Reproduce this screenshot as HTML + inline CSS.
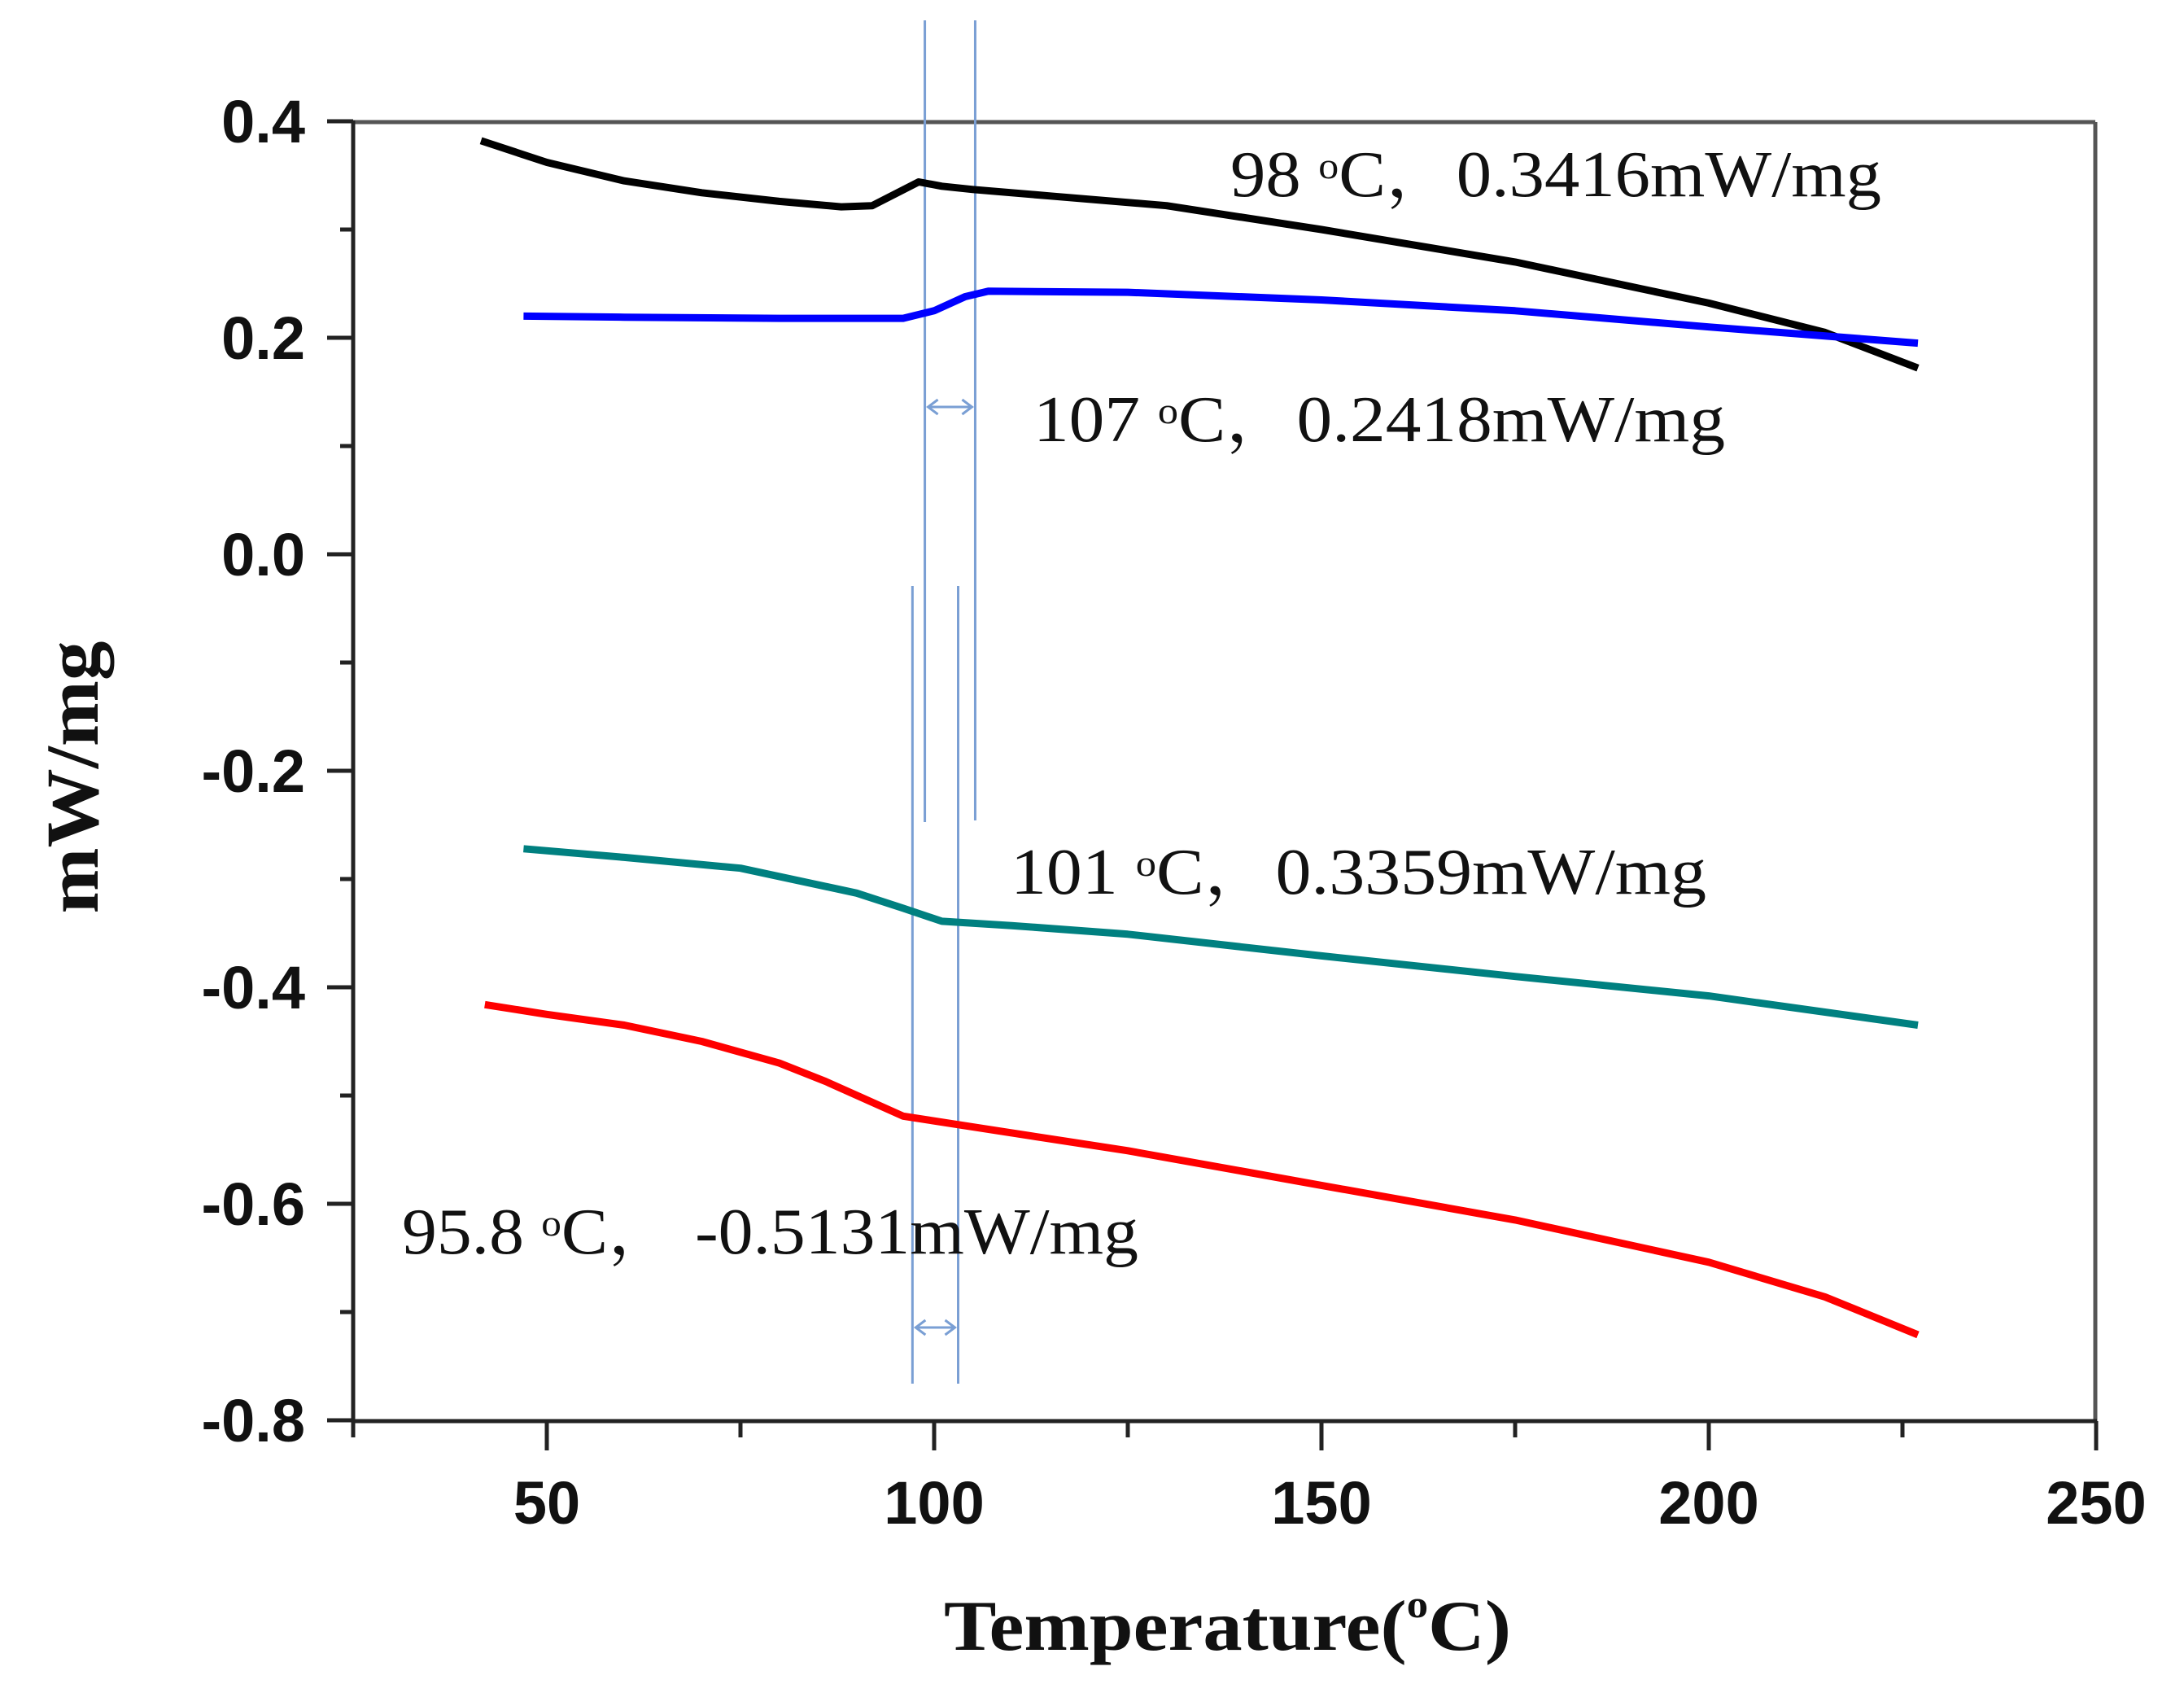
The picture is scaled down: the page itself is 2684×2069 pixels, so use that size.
<!DOCTYPE html>
<html><head><meta charset="utf-8"><style>
html,body{margin:0;padding:0;background:#fff;}
svg{display:block;}
</style></head><body>
<svg id="chart" width="2684" height="2069" viewBox="0 0 2684 2069" xmlns="http://www.w3.org/2000/svg">
<rect width="2684" height="2069" fill="#fff"/>
<g id="marks"></g>
</svg>
<script>
const xTicks = [50, 100, 150, 200, 250];
const xMinor = [75, 125, 175, 225];
const yTicks = [0.4, 0.2, 0.0, -0.2, -0.4, -0.6, -0.8];
const yTickLabels = ["0.4", "0.2", "0.0", "-0.2", "-0.4", "-0.6", "-0.8"];
const yMinor = [0.3, 0.1, -0.1, -0.3, -0.5, -0.7];
const blackT = [41.5, 50, 60, 70, 80, 88, 92, 95, 98, 101, 105, 115, 130, 150, 175, 200, 215, 227];
const blackV = [0.382, 0.362, 0.345, 0.334, 0.326, 0.321, 0.322, 0.333, 0.344, 0.340, 0.337, 0.331, 0.322, 0.300, 0.270, 0.232, 0.205, 0.172];
const blueT = [47, 60, 80, 96, 100, 104, 107, 125, 150, 175, 200, 227];
const blueV = [0.220, 0.219, 0.218, 0.218, 0.225, 0.238, 0.243, 0.242, 0.235, 0.225, 0.210, 0.195];
const tealT = [47, 60, 75, 90, 96, 101, 110, 125, 150, 175, 200, 227];
const tealV = [-0.272, -0.280, -0.290, -0.313, -0.327, -0.339, -0.343, -0.351, -0.371, -0.390, -0.408, -0.435];
const redT = [42, 50, 60, 70, 80, 86, 91, 96, 105, 125, 150, 175, 200, 215, 227];
const redV = [-0.416, -0.425, -0.435, -0.450, -0.470, -0.487, -0.503, -0.519, -0.529, -0.551, -0.583, -0.615, -0.654, -0.686, -0.721];
const markerT = [98.8, 105.3, 97.2, 103.1];
const annotations = [
  {pre:"98 ", post:"C，0.3416mW/mg"},
  {pre:"107 ", post:"C，0.2418mW/mg"},
  {pre:"101 ", post:"C，0.3359mW/mg"},
  {pre:"95.8 ", post:"C， -0.5131mW/mg"}
];

const L=434,R=2575,T=150,B=1746;
const xs = t => 672 + (t-50)*9.52;
const ys = v => 681 - v*1330;
const NS="http://www.w3.org/2000/svg";
const g=document.getElementById('marks');
function mk(tag, attrs, parent){const e=document.createElementNS(NS,tag);for(const k in attrs)e.setAttribute(k,attrs[k]);(parent||g).appendChild(e);return e;}

let e;
e=mk('line',{x1:L,y1:T,x2:R,y2:T,stroke:'#555',"stroke-width":5});


e=mk('line',{x1:R,y1:T,x2:R,y2:B,stroke:'#555',"stroke-width":5});


e=mk('line',{x1:L,y1:T-2,x2:L,y2:B+2,stroke:'#222',"stroke-width":5});


e=mk('line',{x1:L-2,y1:B,x2:R+2,y2:B,stroke:'#222',"stroke-width":5});



yTicks.forEach((v,i)=>{
  let t=mk('line',{x1:L-32,y1:ys(v),x2:L,y2:ys(v),stroke:'#222',"stroke-width":5});
  
  
  let tx=mk('text',{x:375,y:ys(v)+26,"text-anchor":"end","font-family":"Liberation Sans, sans-serif","font-weight":"bold","font-size":74,fill:'#111'});
  tx.textContent=yTickLabels[i];
  
  
});
yMinor.forEach(v=>{
  let t=mk('line',{x1:L-16,y1:ys(v),x2:L,y2:ys(v),stroke:'#222',"stroke-width":5});
  
  
});
xTicks.forEach(v=>{
  let t=mk('line',{x1:xs(v),y1:B,x2:xs(v),y2:B+36,stroke:'#222',"stroke-width":5});
  
  
  let tx=mk('text',{x:xs(v),y:1872,"text-anchor":"middle","font-family":"Liberation Sans, sans-serif","font-weight":"bold","font-size":74,fill:'#111'});
  tx.textContent=String(v);
  
  
});
xMinor.concat([25]).forEach(v=>{
  let t=mk('line',{x1:xs(v),y1:B,x2:xs(v),y2:B+20,stroke:'#222',"stroke-width":5});
  
  
});

const mk_y=[[25,1010],[25,1008],[720,1700],[720,1700]];
markerT.forEach((t,i)=>{
  let l=mk('line',{x1:xs(t),y1:mk_y[i][0],x2:xs(t),y2:mk_y[i][1],stroke:'#7a9fd4',"stroke-width":3});
  
  
});
function arrow(x1,x2,y,name){
  let a=mk('path',{d:`M${x1+4},${y} L${x2-4},${y} M${x1+16},${y-9} L${x1+4},${y} L${x1+16},${y+9} M${x2-16},${y-9} L${x2-4},${y} L${x2-16},${y+9}`,stroke:'#7a9fd4',"stroke-width":3,fill:'none'});
  
  
}
arrow(xs(markerT[0]),xs(markerT[1]),500,'upper-width-arrow');
arrow(xs(markerT[2]),xs(markerT[3]),1631,'lower-width-arrow');

function series(T_,V_,color,name){
  const d=T_.map((t,i)=>(i?'L':'M')+xs(t).toFixed(1)+','+ys(V_[i]).toFixed(1)).join(' ');
  let p=mk('path',{d:d,stroke:color,"stroke-width":9,fill:'none',"stroke-linejoin":"round"});
  
  
}
series(blackT,blackV,'#000','series-black');
series(blueT,blueV,'#0000ff','series-blue');
series(tealT,tealV,'#008080','series-teal');
series(redT,redV,'#ff0000','series-red');

const annPos=[[1512,241,800],[1270,542,850],[1242,1098,855],[494,1540,905]];
annotations.forEach((a,i)=>{
  const [x,y,w]=annPos[i];
  let tx=mk('text',{x:x,y:y,"font-family":"Liberation Serif, Noto Serif CJK SC, serif","font-size":80,fill:'#111',textLength:w,lengthAdjust:'spacingAndGlyphs'});
  
  
  let s1=mk('tspan',{},tx); s1.textContent=a.pre;
  let s2=mk('tspan',{dy:-22,"font-size":46},tx); s2.textContent='o';
  let s3=mk('tspan',{dy:22},tx); s3.textContent=a.post;
});

let yt=mk('text',{x:0,y:0,transform:'translate(120,955) rotate(-90)',"text-anchor":"middle","font-family":"Liberation Serif, serif","font-weight":"bold","font-size":92,fill:'#111',textLength:335,lengthAdjust:'spacingAndGlyphs'});
yt.textContent='mW/mg';


let xt=mk('text',{x:1160,y:2027,"font-family":"Liberation Serif, serif","font-weight":"bold","font-size":88,fill:'#111',textLength:697,lengthAdjust:'spacingAndGlyphs'});


let x1=mk('tspan',{},xt); x1.textContent='Temperature(';
let x2=mk('tspan',{dy:-40,"font-size":48},xt); x2.textContent='o';
let x3=mk('tspan',{dy:40},xt); x3.textContent='C)';
</script>
</body></html>
